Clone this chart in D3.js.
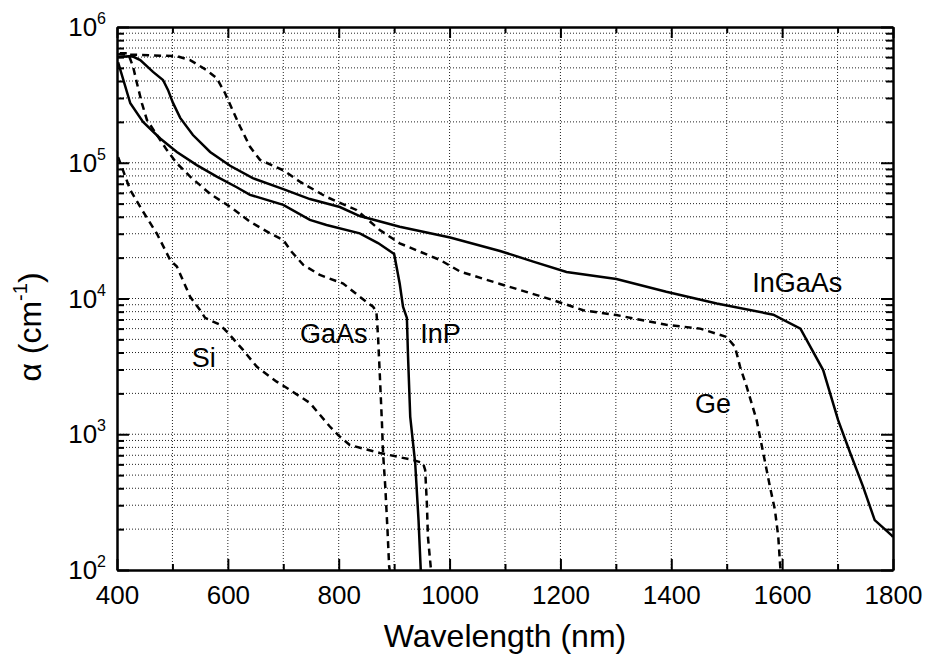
<!DOCTYPE html>
<html lang="en">
<head>
<meta charset="utf-8">
<title>Absorption coefficient vs wavelength</title>
<script src="https://d3js.org/d3.v7.min.js"></script>
<style>
body { margin: 0; background: #fff; }
text { font-family: "Liberation Sans", Arial, sans-serif; fill: #000; }
.grid line { stroke: #222; stroke-width: 1; stroke-dasharray: 1,2; }
.axis path { stroke: #000; stroke-width: 2; }
.axis line { stroke: #000; stroke-width: 2; }
.curve { fill: none; stroke: #000; stroke-width: 2.5; }
.dashed { stroke-dasharray: 7,5; }
</style>
</head>
<body>
<script>
// data: wavelength (nm) and absorption coefficient (cm^-1)
var siWl    = [402, 424, 445, 472, 496, 508, 532, 550, 559, 586, 600, 627, 652, 688, 703, 748, 784, 799, 820, 874, 934, 952, 956, 959, 961, 966, 967];
var siAlpha = [1.1e5, 6.3e4, 4.5e4, 3.0e4, 1.92e4, 1.72e4, 1.03e4, 8.2e3, 7.2e3, 6.4e3, 5.6e3, 4.2e3, 3.15e3, 2.44e3, 2.24e3, 1.7e3, 1.14e3, 986, 833, 728, 646, 614, 545, 312, 175, 105, 100];

var gaasWl    = [405, 420, 429, 436, 445, 454, 478, 490, 508, 532, 568, 604, 640, 676, 700, 715, 736, 766, 808, 838, 862, 868, 871, 874, 878, 880, 884, 888, 891, 892];
var gaasAlpha = [6.4e5, 6.4e5, 5.1e5, 3.85e5, 2.74e5, 2.07e5, 1.47e5, 1.24e5, 9.9e4, 7.9e4, 5.9e4, 4.74e4, 3.68e4, 3.02e4, 2.7e4, 2.21e4, 1.77e4, 1.49e4, 1.29e4, 1.03e4, 8.7e3, 8.0e3, 5.2e3, 2.83e3, 1.21e3, 728, 411, 197, 106, 100];

var inpWl    = [402, 424, 447, 478, 508, 544, 580, 616, 640, 700, 748, 778, 838, 871, 900, 910, 916, 923, 925, 929, 938, 944, 948];
var inpAlpha = [5.5e5, 2.74e5, 2.0e5, 1.51e5, 1.2e5, 9.6e4, 7.9e4, 6.6e4, 5.8e4, 4.9e4, 3.79e4, 3.48e4, 3.02e4, 2.56e4, 2.13e4, 1.29e4, 8.7e3, 7.2e3, 3.8e3, 1.35e3, 611, 233, 100];

var geWl    = [402, 508, 532, 562, 580, 595, 607, 622, 640, 658, 700, 730, 778, 832, 874, 910, 983, 1019, 1091, 1181, 1241, 1301, 1391, 1452, 1500, 1515, 1524, 1536, 1554, 1566, 1578, 1587, 1593, 1597];
var geAlpha = [6.3e5, 6.1e5, 5.7e5, 4.8e5, 4.19e5, 3.25e5, 2.52e5, 1.85e5, 1.31e5, 1.05e5, 8.8e4, 7.25e4, 5.6e4, 4.49e4, 3.2e4, 2.55e4, 1.92e4, 1.58e4, 1.28e4, 9.9e3, 8.2e3, 7.55e3, 6.4e3, 6.0e3, 5.2e3, 4.4e3, 3.15e3, 2.24e3, 1.27e3, 724, 411, 277, 176, 100];

var ingaasWl    = [402, 427, 442, 465, 483, 492, 501, 514, 537, 568, 604, 645, 700, 748, 802, 838, 910, 1001, 1091, 1151, 1211, 1301, 1391, 1482, 1584, 1633, 1674, 1701, 1723, 1746, 1767, 1797, 1800];
var ingaasAlpha = [6.0e5, 6.1e5, 5.7e5, 4.67e5, 4.07e5, 3.44e5, 2.76e5, 2.14e5, 1.6e5, 1.2e5, 9.5e4, 7.7e4, 6.4e4, 5.4e4, 4.72e4, 4.05e4, 3.38e4, 2.81e4, 2.24e4, 1.87e4, 1.57e4, 1.39e4, 1.12e4, 9.2e3, 7.6e3, 6.0e3, 2.97e3, 1.27e3, 724, 411, 233, 181, 175];

var seriesNames  = ["Si", "GaAs", "InP", "Ge", "InGaAs"];
var seriesDashed = [true, true, false, true, false];

// label anchors (left edge, baseline) in data units
var labelWl    = [535, 730, 947, 1443, 1546];
var labelAlpha = [3150, 4680, 4700, 1435, 11170];

var xMajor = [400, 600, 800, 1000, 1200, 1400, 1600, 1800];
var xMinor = [500, 700, 900, 1100, 1300, 1500, 1700];
var yMajor = [1e2, 1e3, 1e4, 1e5, 1e6];
var yExps  = ["2", "3", "4", "5", "6"];

var margin = {top: 27, right: 32, bottom: 85, left: 117},
    width = 925 - margin.left - margin.right,
    height = 655 - margin.top - margin.bottom;

var x = d3.scaleLinear().domain([400, 1800]).range([0, width]);
var y = d3.scaleLog().domain([100, 1e6]).range([height, 0]);

var yMinor = [];
yMajor.slice(0, 4).forEach(function(d) {
  for (var m = 2; m <= 9; m++) yMinor.push(d * m);
});

var svg = d3.select("body").append("svg")
    .attr("width", 925)
    .attr("height", 655)
  .append("g")
    .attr("transform", "translate(" + margin.left + "," + margin.top + ")");

svg.append("defs").append("clipPath").attr("id", "plotclip")
  .append("rect").attr("width", width).attr("height", height);

// dotted grid
var grid = svg.append("g").attr("class", "grid");
grid.selectAll(".gx")
    .data(xMajor.concat(xMinor).filter(function(d) { return d > 400 && d < 1800; }))
  .enter().append("line")
    .attr("x1", function(d) { return x(d); })
    .attr("x2", function(d) { return x(d); })
    .attr("y1", 0).attr("y2", height);
grid.selectAll(".gy")
    .data(yMajor.concat(yMinor).filter(function(d) { return d > 100 && d < 1e6; }))
  .enter().append("line")
    .attr("y1", function(d) { return y(d); })
    .attr("y2", function(d) { return y(d); })
    .attr("x1", 0).attr("x2", width);

// curves
var line = d3.line()
    .x(function(d) { return x(d[0]); })
    .y(function(d) { return y(d[1]); });

var allWl = [siWl, gaasWl, inpWl, geWl, ingaasWl];
var allAlpha = [siAlpha, gaasAlpha, inpAlpha, geAlpha, ingaasAlpha];

svg.append("g").attr("clip-path", "url(#plotclip)")
  .selectAll(".curve")
    .data(seriesNames)
  .enter().append("path")
    .attr("class", function(d, i) { return seriesDashed[i] ? "curve dashed" : "curve"; })
    .attr("d", function(d, i) {
      return line(d3.zip(allWl[i], allAlpha[i]));
    });

// curve labels
svg.selectAll(".clabel")
    .data(seriesNames)
  .enter().append("text")
    .attr("class", "clabel")
    .attr("x", function(d, i) { return x(labelWl[i]); })
    .attr("y", function(d, i) { return y(labelAlpha[i]); })
    .attr("font-size", "27px")
    .text(function(d) { return d; });

// axes, ticks pointing inwards
function noLabels(g) { g.selectAll("text").remove(); }

svg.append("g").attr("class", "axis")
    .attr("transform", "translate(0," + height + ")")
    .call(d3.axisBottom(x).tickValues(xMajor).tickFormat(d3.format("d"))
      .tickSize(-11).tickSizeOuter(0).tickPadding(16))
    .call(function(g) {
      g.selectAll("text").attr("font-size", "26px").attr("font-family", null);
    });
svg.append("g").attr("class", "axis")
    .attr("transform", "translate(0," + height + ")")
    .call(d3.axisBottom(x).tickValues(xMinor).tickSize(-6).tickSizeOuter(0))
    .call(noLabels);
svg.append("g").attr("class", "axis")
    .call(d3.axisTop(x).tickValues(xMajor).tickSize(-11).tickSizeOuter(0))
    .call(noLabels);
svg.append("g").attr("class", "axis")
    .call(d3.axisTop(x).tickValues(xMinor).tickSize(-6).tickSizeOuter(0))
    .call(noLabels);

svg.append("g").attr("class", "axis")
    .call(d3.axisLeft(y).tickValues(yMajor).tickSize(-12).tickSizeOuter(0))
    .call(noLabels);
svg.append("g").attr("class", "axis")
    .call(d3.axisLeft(y).tickValues(yMinor).tickSize(-7).tickSizeOuter(0))
    .call(noLabels);
svg.append("g").attr("class", "axis")
    .attr("transform", "translate(" + width + ",0)")
    .call(d3.axisRight(y).tickValues(yMajor).tickSize(-12).tickSizeOuter(0))
    .call(noLabels);
svg.append("g").attr("class", "axis")
    .attr("transform", "translate(" + width + ",0)")
    .call(d3.axisRight(y).tickValues(yMinor).tickSize(-7).tickSizeOuter(0))
    .call(noLabels);

// y tick labels as 10^n
var ylab = svg.selectAll(".ylab")
    .data(yMajor)
  .enter().append("text")
    .attr("class", "ylab")
    .attr("x", -11)
    .attr("y", function(d) { return y(d) + 9; })
    .attr("text-anchor", "end");
ylab.append("tspan").attr("font-size", "26px").text("10");
ylab.append("tspan").attr("font-size", "16px").attr("dy", -12)
    .text(function(d, i) { return yExps[i]; });

// axis titles
svg.append("text")
    .attr("x", width / 2)
    .attr("y", height + 77)
    .attr("text-anchor", "middle")
    .attr("font-size", "32px")
    .text("Wavelength (nm)");

var yt = svg.append("text")
    .attr("transform", "rotate(-90)")
    .attr("x", -300)
    .attr("y", 41 - margin.left)
    .attr("text-anchor", "middle")
    .attr("font-size", "32px");
yt.append("tspan").text("\u03b1 (cm");
yt.append("tspan").attr("font-size", "20px").attr("dy", -14).text("-1");
yt.append("tspan").attr("dy", 14).text(")");
</script>
</body>
</html>
